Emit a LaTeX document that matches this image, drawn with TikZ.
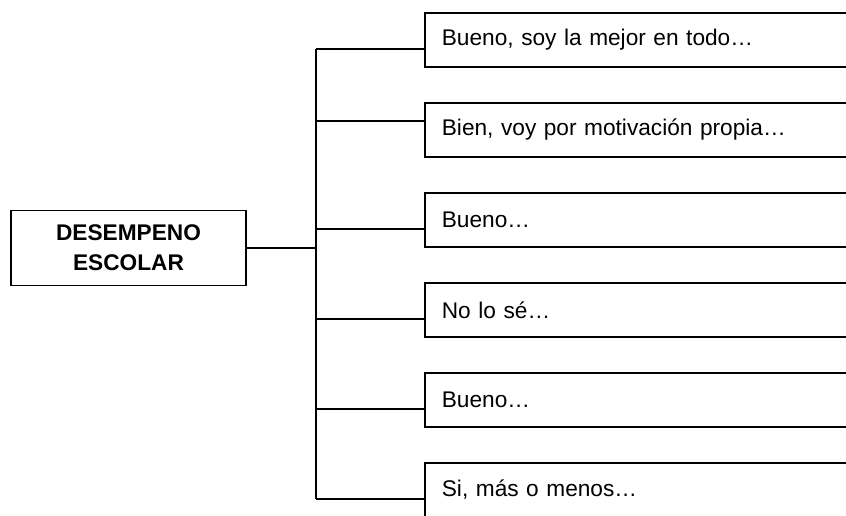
\documentclass[tikz,border=0pt]{standalone}
\usepackage{fontspec}
\setmainfont{Liberation Sans}

\tikzset{
	leftbox/.style={draw, line width=1.3pt, rectangle, minimum width=176.25pt, minimum height=56.25pt, align=center, font=\fontsize{17pt}{22.5pt}\selectfont\bfseries},
	answerbox/.style={draw, line width=1.3pt, rectangle, anchor=west, text width=312pt, inner xsep=12.75pt, minimum height=40.5pt, align=left, font=\fontsize{17pt}{20pt}\selectfont},
	branch/.style={line width=1.3pt}
}

\begin{document}
\begin{tikzpicture}[x=0.75pt,y=-0.75pt]
		\useasboundingbox (0,0) rectangle (846,515);
		\clip (0,0) rectangle (846,515);

		% draw the main box on the left
		\node[leftbox] (des) at (128.5,248) {DESEMPENO\\ESCOLAR};

		% draw the answer boxes
		\node[answerbox] (a1) at (424,40) {Bueno, soy la mejor en todo…};
		\node[answerbox] (a2) at (424,130) {Bien, voy por motivación propia…};
		\node[answerbox] (a3) at (424,220) {Bueno…};
		\node[answerbox] (a4) at (424,310) {No lo sé…};
		\node[answerbox] (a5) at (424,400) {Bueno…};
		\node[answerbox] (a6) at (424,490) {Si, más o menos…};

		% points where the branches leave the trunk
		\coordinate (b1) at (316,49);
		\coordinate (b2) at (316,121);
		\coordinate (b3) at (316,229);
		\coordinate (b4) at (316,319);
		\coordinate (b5) at (316,409);
		\coordinate (b6) at (316,499);

		% draw the trunk and the link to the main box
		\draw[branch] (b1) -- (b6);
		\draw[branch] (des.east) -- (des.east -| b1);

		% draw the branches to the answers
		\draw[branch] (b1) -- (b1 -| a1.west);
		\draw[branch] (b2) -- (b2 -| a2.west);
		\draw[branch] (b3) -- (b3 -| a3.west);
		\draw[branch] (b4) -- (b4 -| a4.west);
		\draw[branch] (b5) -- (b5 -| a5.west);
		\draw[branch] (b6) -- (b6 -| a6.west);
	\end{tikzpicture}
\end{document}
